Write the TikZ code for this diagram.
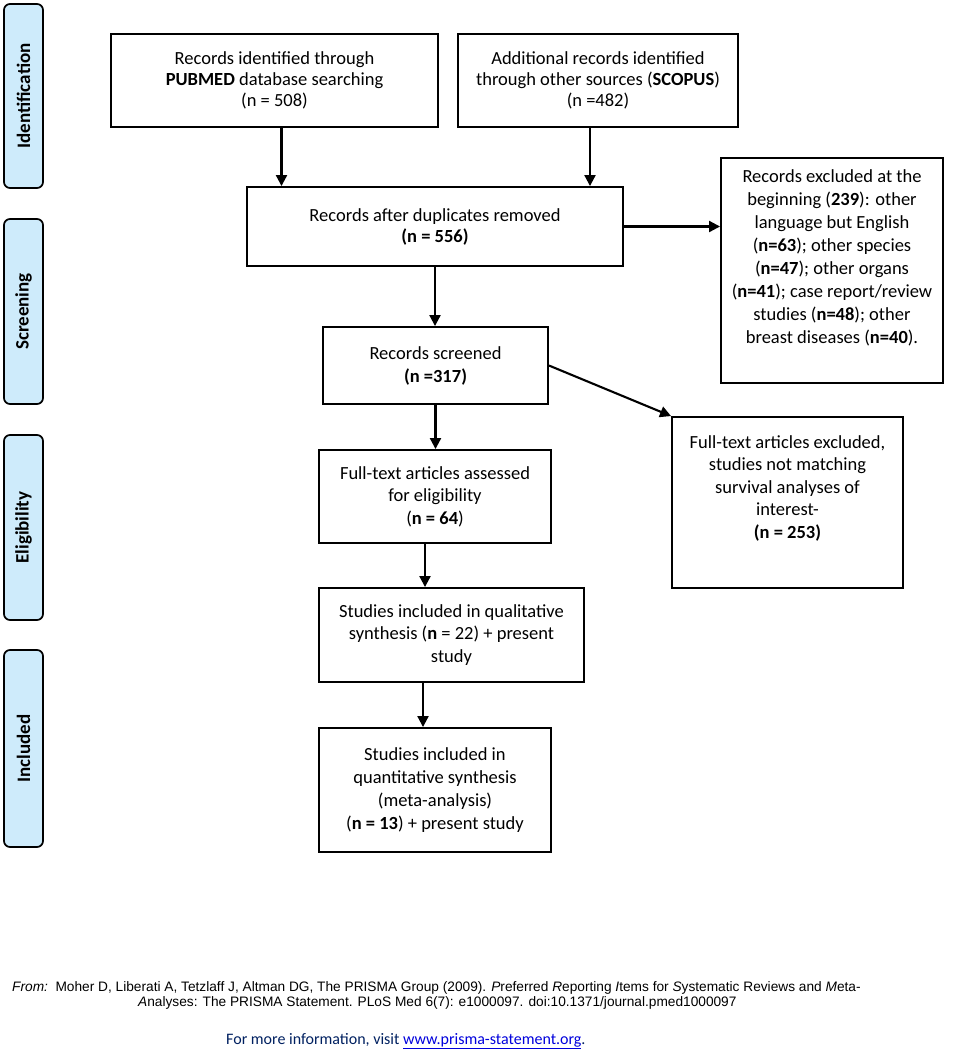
\documentclass[tikz,border=0pt]{standalone}
\usepackage{fontspec}
\setmainfont{Carlito}
\newfontfamily\arialf{Liberation Sans}
\usetikzlibrary{arrows.meta}
\definecolor{sidefill}{RGB}{206,235,251}
\definecolor{navy}{RGB}{0,32,96}
\definecolor{linkblue}{RGB}{0,0,220}
\tikzset{
  box/.style={draw, line width=1.9pt, inner sep=0pt},
  boxtext/.style={align=center, font=\fontsize{18.5}{22.5}\selectfont, inner sep=0pt},
  side/.style={draw, line width=1.7pt, rounded corners=6pt, fill=sidefill, minimum width=39pt, inner sep=0pt},
  sidetext/.style={rotate=90, font=\fontsize{19}{21}\bfseries\selectfont},
  arr/.style={line width=2.1pt, -{Triangle[length=11pt,width=11pt]}},
}
\begin{document}
\begin{tikzpicture}[x=1pt,y=-1pt]
\useasboundingbox (0,0) rectangle (957,1050);
% side labels
\node[side, minimum height=184pt] (sid) at (23.5,96) {};
\node[sidetext] at (sid.center) {Identification};
\node[side, minimum height=185pt] (sscr) at (23.5,311.5) {};
\node[sidetext] at (sscr.center) {Screening};
\node[side, minimum height=185pt] (selig) at (23.5,527.5) {};
\node[sidetext] at (selig.center) {Eligibility};
\node[side, minimum height=197pt] (sincl) at (23.5,748.5) {};
\node[sidetext] at (sincl.center) {Included};
% boxes
\node[box, minimum width=327pt, minimum height=93pt] (pub) at (274.5,80.5) {};
\node[boxtext, font=\fontsize{18.5}{21}\selectfont] at (pub.center) {Records identified through\\\textbf{PUBMED} database searching\\(n = 508)};
\node[box, minimum width=280pt, minimum height=93pt] (scop) at (598,80.5) {};
\node[boxtext, font=\fontsize{18.5}{21}\selectfont] at (scop.center) {Additional records identified\\through other sources (\textbf{SCOPUS})\\(n =482)};
\node[box, minimum width=376pt, minimum height=79pt] (dup) at (435,226.5) {};
\node[boxtext, font=\fontsize{18.5}{21}\selectfont] at (dup.center) {Records after duplicates removed\\\textbf{(n = 556)}};
\node[box, minimum width=222pt, minimum height=225pt] (exc1) at (832,270.5) {};
\node[boxtext, font=\fontsize{18.5}{23}\selectfont] at (832,258) {Records excluded at the\\beginning (\textbf{239}): other\\language but English\\(\textbf{n=63}); other species\\(\textbf{n=47}); other organs\\(\textbf{n=41}); case report/review\\studies (\textbf{n=48}); other\\breast diseases (\textbf{n=40}).};
\node[box, minimum width=225pt, minimum height=77pt] (scr) at (435.5,365.5) {};
\node[boxtext, font=\fontsize{18.5}{23}\selectfont] at (scr.center) {Records screened\\\textbf{(n =317)}};
\node[box, minimum width=231pt, minimum height=171pt] (exc2) at (787.5,502.5) {};
\node[boxtext] at (787.5,488) {Full-text articles excluded,\\studies not matching\\survival analyses of\\interest-\\\textbf{(n = 253)}};
\node[box, minimum width=232pt, minimum height=93pt] (asse) at (435,496.5) {};
\node[boxtext] at (asse.center) {Full-text articles assessed\\for eligibility\\(\textbf{n = 64})};
\node[box, minimum width=265pt, minimum height=94pt] (qual) at (451.5,635) {};
\node[boxtext] at (qual.center) {Studies included in qualitative\\synthesis (\textbf{n} = 22) + present\\study};
\node[box, minimum width=232pt, minimum height=124pt] (quan) at (435,790) {};
\node[boxtext, font=\fontsize{18.5}{23}\selectfont] at (quan.center) {Studies included in\\quantitative synthesis\\(meta-analysis)\\(\textbf{n = 13}) + present study};
% connectors
\draw[arr] ([xshift=7pt]pub.south) -- ([xshift=7pt]pub.south |- dup.north);
\draw[arr] ([xshift=-8pt]scop.south) -- ([xshift=-8pt]scop.south |- dup.north);
\draw[arr] (dup.east) -- (dup.east -| exc1.west);
\draw[arr] (dup.south) -- (dup.south |- scr.north);
\draw[arr] (scr.east) -- (exc2.north west);
\draw[arr] (scr.south) -- (scr.south |- asse.north);
\draw[arr] ([xshift=-10pt]asse.south) -- ([xshift=-10pt]asse.south |- qual.north);
\draw[arr] ([xshift=-28.5pt]qual.south) -- ([xshift=-28.5pt]qual.south |- quan.north);
% footer
\node[anchor=base west, inner sep=0pt, font=\arialf\fontsize{13.7}{15}\selectfont] (f1) at (12,991) {\textit{From:}\ \ Moher D, Liberati A, Tetzlaff J, Altman DG, The PRISMA Group (2009). \textit{P}referred \textit{R}eporting \textit{I}tems for \textit{S}ystematic Reviews and \textit{M}eta-};
\node[anchor=base west, inner sep=0pt, font=\arialf\fontsize{13.7}{15}\selectfont] (f2) at (138,1006) {\textit{A}nalyses: The PRISMA Statement. PLoS Med 6(7): e1000097. doi:10.1371/journal.pmed1000097};
\node[anchor=base west, inner sep=0pt, font=\fontsize{16}{18}\selectfont, text=navy] (f3) at (226,1044) {For more information, visit \textcolor{linkblue}{\underline{www.prisma-statement.org}}.};
\end{tikzpicture}
\end{document}
